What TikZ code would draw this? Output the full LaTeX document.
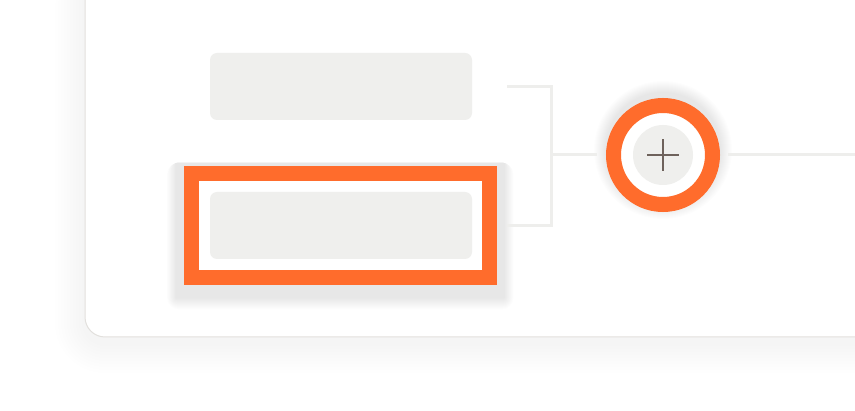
\documentclass[tikz,border=0pt]{standalone}
\definecolor{accent}{HTML}{FF6C2C}
\definecolor{slot}{HTML}{EFEFED}
\definecolor{wire}{HTML}{EEEEEC}
\definecolor{edge}{HTML}{E2E0DD}
\definecolor{glyph}{HTML}{6E625C}
\pgfdeclarelayer{back}
\pgfdeclarelayer{shade}
\pgfsetlayers{back,shade,main}

\begin{document}
\begin{tikzpicture}[x=1pt, y=-1pt,
  haze/.style={fill=black, opacity=#1},
  card/.style={draw=edge, line width=1pt, fill=white, rounded corners=20pt},
  slotbox/.style={fill=slot, rounded corners=7pt, minimum width=262pt, minimum height=67pt, inner sep=0pt},
  frame/.style={draw=accent, fill=white, line width=15pt, minimum width=297.5pt, minimum height=104pt, inner sep=0pt},
  ring/.style={circle, draw=accent, fill=white, line width=15pt, minimum size=99pt, inner sep=0pt},
  core/.style={circle, fill=slot, minimum size=60pt, inner sep=0pt},
  link/.style={draw=wire, line width=3pt}
]
\useasboundingbox (0,0) rectangle (855,411);

% selected slot
\node[frame] (frame) at (340.25,225.5) {};
\node[slotbox] (pick1) at (341,86.5) {};
\node[slotbox] (pick2) at (341,225.5) {};

% add button
\node[ring] (hub) at (663,155) {};
\node[core] (plus) at (hub.center) {};
\draw[glyph, line width=2.4pt] ([xshift=-16pt]plus.center) -- ([xshift=16pt]plus.center);
\draw[glyph, line width=2.4pt] ([yshift=-16pt]plus.center) -- ([yshift=16pt]plus.center);

\coordinate (join) at (551,155);
\coordinate (out) at (860,155);

\draw[link] ([xshift=35pt]pick1.east) -| (join) |- ([xshift=35pt]pick2.east);
\draw[link, shorten >=9pt] (join) -- (hub);
\draw[link, shorten <=8pt] (hub) -- (out);

% card and soft shadows
\begin{pgfonlayer}{back}
\fill[white] (0,0) rectangle (855,411);
\foreach \d in {3,6,...,30}
  \fill[haze=0.004, rounded corners=20pt+\d pt] (85-\d,-40) rectangle (905,337+\d+6);
\path[card] (85,-40) rectangle (905,337);
\end{pgfonlayer}
\begin{pgfonlayer}{shade}
\foreach \d in {1,2,...,12} {
  \fill[haze=0.008, rounded corners=\d pt] ([shift={(-7.5-0.8*\d,-7.5+4)}]frame.north west) rectangle ([shift={(7.5+0.8*\d,7.5+\d+5)}]frame.south east);
  \fill[haze=0.008] ([yshift=5pt]hub.center) circle (57pt+\d pt);
}
\end{pgfonlayer}
\end{tikzpicture}
\end{document}
